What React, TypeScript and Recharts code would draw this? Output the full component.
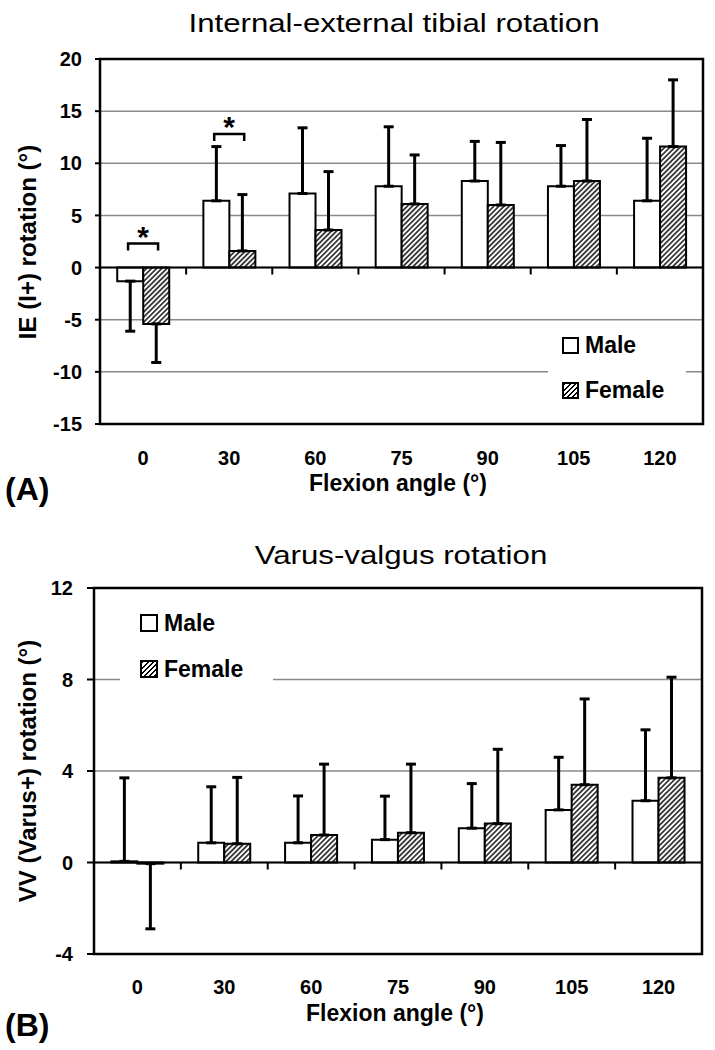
import React from 'react';
import {
  BarChart, Bar, XAxis, YAxis, CartesianGrid, ErrorBar,
  ReferenceLine, ReferenceArea, ReferenceDot, Legend,
} from 'recharts';

const FONT = '"Liberation Sans", Arial, sans-serif';

const angles = ['0', '30', '60', '75', '90', '105', '120'];
const seriesOrder = ['male', 'female'];

// (A) internal-external tibial rotation, mean and SD in degrees
const ieMale = [-1.3, 6.4, 7.1, 7.8, 8.3, 7.8, 6.4];
const ieMaleSd = [4.8, 5.2, 6.3, 5.7, 3.8, 3.9, 6.0];
const ieFemale = [-5.4, 1.6, 3.6, 6.1, 6.0, 8.3, 11.6];
const ieFemaleSd = [3.7, 5.4, 5.6, 4.7, 6.0, 5.9, 6.4];
const ieTicks = [-15, -10, -5, 0, 5, 10, 15, 20];
const ieSig = [{ angle: '0', y: 2.3 }, { angle: '30', y: 12.8 }];

// (B) varus-valgus rotation
const vvMale = [0.05, 0.86, 0.86, 1.0, 1.5, 2.3, 2.7];
const vvMaleSd = [3.65, 2.45, 2.05, 1.9, 1.95, 2.3, 3.1];
const vvFemale = [-0.05, 0.82, 1.2, 1.3, 1.7, 3.4, 3.7];
const vvFemaleSd = [2.85, 2.9, 3.1, 3.0, 3.25, 3.75, 4.4];
const vvTicks = [-4, 0, 4, 8, 12];

// error bars only point away from zero
const oneSided = (v: number, sd: number) => (v < 0 ? [sd, 0] : [0, sd]);

const buildRows = (m: number[], ms: number[], f: number[], fs: number[]) =>
  angles.map((a, i) => ({
    angle: a,
    male: m[i],
    female: f[i],
    maleErr: oneSided(m[i], ms[i]),
    femaleErr: oneSided(f[i], fs[i]),
  }));

const zeroLine = (n: number) => (p: any) => {
  const { x1, x2, y1 } = p;
  const step = (x2 - x1) / n;
  let d = `M${x1},${y1}H${x2}`;
  for (let i = 1; i < n; i++) d += `M${x1 + i * step},${y1}v7`;
  return <path d={d} stroke="#000" strokeWidth={2} fill="none" />;
};

const sigMark = (p: any) => {
  const { cx, cy } = p;
  return (
    <g>
      <path d={`M${cx - 15},${cy + 7}V${cy}H${cx + 15}V${cy + 7}`} stroke="#000" strokeWidth={2.5} fill="none" />
      <text x={cx} y={cy + 3} textAnchor="middle" fontSize={30} fontWeight={700} fill="#000">*</text>
    </g>
  );
};

type LegendBox = { left: number; top: number; width: number; height: number; rowTop: number; rowStep: number; swatch: number; indent: number };

const legendContent = (box: LegendBox) => (props: any) => {
  const items = [...((props.payload || []) as any[])].sort(
    (a, b) => seriesOrder.indexOf(a.dataKey) - seriesOrder.indexOf(b.dataKey),
  );
  return (
    <div style={{ position: 'relative', width: box.width, height: box.height }}>
      {items.map((it, i) => (
        <div key={it.value} style={{ position: 'absolute', left: box.indent, top: box.rowTop + i * box.rowStep, height: box.swatch, display: 'flex', alignItems: 'center' }}>
          <div style={{
            width: box.swatch, height: box.swatch, boxSizing: 'border-box', border: '2px solid #000',
            background: it.dataKey === 'female'
              ? 'repeating-linear-gradient(135deg, #000 0 1.4px, #fff 1.4px 3.6px)'
              : '#fff',
          }} />
          <span style={{ marginLeft: 6, fontSize: 23, fontWeight: 700, lineHeight: 1, color: '#000', fontFamily: FONT }}>{it.value}</span>
        </div>
      ))}
    </div>
  );
};

type PanelProps = {
  top: number; height: number;
  title: string; titleX: number; titleTop: number;
  yLabel: string; yLabelY: number;
  xLabelX: number; xLabelTop: number;
  letter: string; letterTop: number;
  rows: any[]; ticks: number[]; sig?: { angle: string; y: number }[];
  margin: { top: number; right: number; left: number; bottom: number };
  yAxisWidth: number; xAxisHeight: number;
  yTickSize: number; yTickMargin: number; xTickMargin: number;
  legend: LegendBox; patternId: string;
};

function Panel(p: PanelProps) {
  const lo = p.ticks[0];
  const hi = p.ticks[p.ticks.length - 1];
  const tickStyle = { fontSize: 20, fontWeight: 700, fill: '#000' };
  return (
    <div style={{ position: 'absolute', left: 0, top: p.top, width: 715, height: p.height }}>
      <BarChart width={715} height={p.height} data={p.rows} margin={p.margin} barCategoryGap="20%" barGap={0}>
        <defs>
          <pattern id={p.patternId} patternUnits="userSpaceOnUse" width={3.6} height={3.6} patternTransform="rotate(45)">
            <rect width={3.6} height={3.6} fill="#fff" />
            <line x1={1.8} y1={0} x2={1.8} y2={3.6} stroke="#000" strokeWidth={1.4} />
          </pattern>
        </defs>
        <CartesianGrid vertical={false} stroke="#8a8a8a" strokeWidth={1.5} />
        <XAxis dataKey="angle" height={p.xAxisHeight} axisLine={false} tickLine={false}
          tickSize={0} tickMargin={p.xTickMargin} tick={tickStyle} interval={0} />
        <YAxis width={p.yAxisWidth} domain={[lo, hi]} ticks={p.ticks} allowDataOverflow axisLine={false}
          tickLine={{ stroke: '#000', strokeWidth: 2 }} tickSize={p.yTickSize} tickMargin={p.yTickMargin} tick={tickStyle} />
        <Bar dataKey="male" name="Male" fill="#fff" stroke="#000" strokeWidth={2} isAnimationActive={false}>
          <ErrorBar dataKey="maleErr" direction="y" width={5} stroke="#000" strokeWidth={3} isAnimationActive={false} />
        </Bar>
        <Bar dataKey="female" name="Female" fill={`url(#${p.patternId})`} stroke="#000" strokeWidth={2} isAnimationActive={false}>
          <ErrorBar dataKey="femaleErr" direction="y" width={5} stroke="#000" strokeWidth={3} isAnimationActive={false} />
        </Bar>
        <ReferenceLine y={0} shape={zeroLine(angles.length)} />
        {(p.sig || []).map((s) => (
          <ReferenceDot key={s.angle} x={s.angle} y={s.y} r={0} shape={sigMark} ifOverflow="visible" />
        ))}
        <ReferenceArea y1={lo} y2={hi} fill="none" fillOpacity={0} stroke="#000" strokeWidth={2.5} />
        <Legend layout="vertical" align="center" verticalAlign="middle"
          wrapperStyle={{ left: p.legend.left, top: p.legend.top, width: p.legend.width, height: p.legend.height, background: '#fff' }}
          content={legendContent(p.legend)} />
      </BarChart>
      <div style={{ position: 'absolute', left: p.titleX, top: p.titleTop, transform: 'translateX(-50%) scaleX(1.2)', fontSize: 26, lineHeight: 1, whiteSpace: 'nowrap', color: '#000' }}>
        {p.title}
      </div>
      <div style={{ position: 'absolute', left: 27.5, top: p.yLabelY, transform: 'translate(-50%, -50%) rotate(-90deg)', fontSize: 24, fontWeight: 700, lineHeight: 1, whiteSpace: 'nowrap', color: '#000' }}>
        {p.yLabel}
      </div>
      <div style={{ position: 'absolute', left: p.xLabelX, top: p.xLabelTop, transform: 'translateX(-50%)', fontSize: 23, fontWeight: 700, lineHeight: 1, whiteSpace: 'nowrap', color: '#000' }}>
        Flexion angle (°)
      </div>
      <div style={{ position: 'absolute', left: 5, top: p.letterTop, fontSize: 32, fontWeight: 700, lineHeight: 1, color: '#000' }}>
        {p.letter}
      </div>
    </div>
  );
}

export default function App() {
  return (
    <div style={{ position: 'absolute', left: 0, top: 0, width: 715, height: 1050, background: '#fff', fontFamily: FONT }}>
      <Panel
        top={0} height={500}
        title="Internal-external tibial rotation" titleX={394} titleTop={10}
        yLabel="IE (I+) rotation (°)" yLabelY={242}
        xLabelX={398} xLabelTop={472}
        letter="(A)" letterTop={473}
        rows={buildRows(ieMale, ieMaleSd, ieFemale, ieFemaleSd)} ticks={ieTicks} sig={ieSig}
        margin={{ top: 59, right: 12, left: 0, bottom: 0 }}
        yAxisWidth={100} xAxisHeight={76} yTickSize={5} yTickMargin={13} xTickMargin={27}
        legend={{ left: 548, top: 330, width: 138, height: 76, rowTop: 7, rowStep: 45, swatch: 17, indent: 14 }}
        patternId="hatchA"
      />
      <Panel
        top={525} height={525}
        title="Varus-valgus rotation" titleX={401} titleTop={17}
        yLabel="VV (Varus+) rotation (°)" yLabelY={246}
        xLabelX={395} xLabelTop={477}
        letter="(B)" letterTop={484}
        rows={buildRows(vvMale, vvMaleSd, vvFemale, vvFemaleSd)} ticks={vvTicks}
        margin={{ top: 63, right: 13, left: 0, bottom: 0 }}
        yAxisWidth={94} xAxisHeight={96} yTickSize={7} yTickMargin={14} xTickMargin={26}
        legend={{ left: 120, top: 75, width: 153, height: 90, rowTop: 14, rowStep: 46, swatch: 18, indent: 20 }}
        patternId="hatchB"
      />
    </div>
  );
}
